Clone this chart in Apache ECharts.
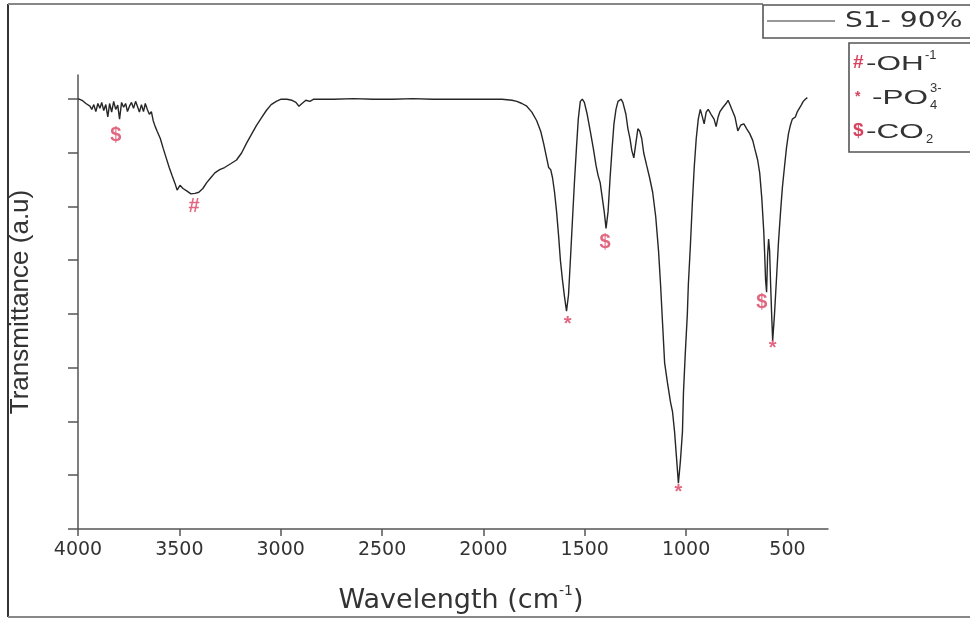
<!DOCTYPE html>
<html>
<head>
<meta charset="utf-8">
<script src="https://cdn.jsdelivr.net/npm/echarts@6/dist/echarts.min.js"></script>
<style>
html,body{margin:0;padding:0;background:#fff;}
#chart{width:970px;height:619px;}
</style>
</head>
<body>
<div id="chart"></div>
<script>
// Wavenumber (cm-1) and transmittance (a.u.)
const wavenumber = [4000,3980,3961,3941,3932,3922,3912,3902,3892,3883,3873,3863,3853,3844,3834,3824,3814,3804,3795,3785,3775,3765,3756,3746,3736,3726,3716,3707,3697,3687,3677,3668,3658,3648,3638,3629,3619,3609,3594,3580,3565,3550,3536,3521,3511,3497,3482,3462,3443,3423,3404,3384,3365,3345,3325,3301,3277,3247,3218,3193,3169,3145,3120,3096,3071,3047,3022,2998,2969,2944,2925,2910,2895,2876,2856,2837,2739,2641,2543,2446,2348,2250,2152,2055,1957,1908,1859,1835,1810,1786,1761,1737,1717,1703,1688,1678,1668,1659,1649,1639,1629,1620,1610,1600,1590,1580,1571,1561,1551,1541,1532,1522,1512,1502,1488,1473,1458,1444,1434,1424,1414,1404,1395,1385,1375,1365,1356,1346,1336,1321,1312,1297,1287,1277,1268,1258,1248,1238,1229,1219,1209,1194,1180,1165,1150,1136,1126,1116,1106,1092,1077,1067,1057,1048,1038,1028,1018,1013,1004,994,989,979,969,960,950,940,930,921,911,901,891,877,862,852,842,833,818,803,793,784,774,759,745,730,715,701,686,671,662,647,637,627,617,613,608,603,598,593,588,583,578,573,564,554,544,534,525,515,505,495,486,476,461,451,442,432,422,412,402];
const transmittance = [80.0,79.7,79.1,78.6,78.0,78.9,77.6,79.1,78.2,79.3,77.8,78.9,76.6,79.1,77.5,79.5,78.0,78.8,76.2,79.3,78.4,79.1,77.6,78.6,79.3,78.2,79.5,78.6,77.5,78.9,77.6,79.1,78.0,77.1,77.6,75.9,74.8,73.9,72.6,70.8,69.0,67.2,65.7,64.2,63.0,63.9,63.3,62.8,62.3,62.4,62.6,63.3,64.4,65.3,66.2,66.8,67.2,67.9,68.6,69.9,71.7,73.3,75.0,76.4,77.8,78.9,79.5,79.9,79.9,79.7,79.3,78.6,79.1,79.7,79.5,79.9,79.9,80.0,79.9,79.9,80.0,79.9,79.9,79.9,79.9,79.9,79.7,79.5,79.1,78.6,77.5,75.9,73.9,71.7,69.0,67.2,66.8,65.3,62.6,59.0,54.5,49.9,46.3,43.2,40.5,43.6,49.9,57.2,64.4,70.8,76.2,79.5,79.9,79.3,77.1,74.0,70.8,67.5,65.7,64.4,61.7,59.0,55.9,59.0,65.3,70.8,75.3,78.0,79.5,79.9,79.3,77.1,74.4,72.6,70.4,69.0,71.7,74.4,74.0,72.6,69.9,67.5,65.3,62.6,58.1,51.7,45.4,38.1,30.9,27.2,23.6,21.8,18.1,13.6,8.5,12.7,18.1,25.4,32.7,39.9,45.4,52.6,60.8,67.2,72.6,76.2,78.0,76.8,75.3,77.5,78.0,77.1,76.2,74.8,76.6,77.6,78.4,79.1,79.7,78.9,78.0,76.6,74.0,75.1,75.3,74.4,73.5,72.2,70.8,68.6,66.2,61.7,55.4,51.7,46.3,44.0,50.8,53.9,51.7,45.4,39.9,35.0,39.9,46.6,53.5,59.0,63.5,67.2,70.8,73.5,75.0,76.2,76.6,77.6,77.5,78.8,79.5,79.9,80.2];

// Band annotations
const annWavenumber = [3814, 3428, 1585, 1400, 1038, 627, 573];
const annTransmittance = [73.1, 59.9, 38.0, 53.2, 6.8, 42.1, 33.5];
const annSymbol = ['$', '#', '*', '$', '*', '$', '*'];

// Axis ticks
const xTicks = [4000, 3500, 3000, 2500, 2000, 1500, 1000, 500];
const yTicks = [0, 10, 20, 30, 40, 50, 60, 70, 80];

const seriesName = 'S1- 90%';

const lineData = wavenumber.map((w, i) => [w, transmittance[i]]);
const annData = annWavenumber.map((w, i) => ({ value: [w, annTransmittance[i]], sym: annSymbol[i] }));

const RED = '#d8415f';
const chart = echarts.init(document.getElementById('chart'), null, { renderer: 'canvas' });

const FONT = 'Liberation Sans, Arial, sans-serif';

chart.setOption({
  backgroundColor: '#ffffff',
  animation: false,
  grid: { left: 72, right: 142, top: 75, bottom: 79, containLabel: false },
  xAxis: {
    type: 'value',
    inverse: true,
    min: 300,
    max: 4000,
    splitLine: { show: false },
    axisLine: { show: true, onZero: false, lineStyle: { color: '#555', width: 1.5 } },
    axisTick: { show: true, customValues: xTicks, length: 7, inside: false, lineStyle: { color: '#555', width: 1.5 } },
    axisLabel: { customValues: xTicks, formatter: v => String(v), margin: 12, fontSize: 19, color: '#333', fontFamily: 'DejaVu Sans' },
    name: '{t|Wavelength (cm}{s|-1}{t|)}',
    nameLocation: 'middle',
    nameGap: 55,
    nameTextStyle: {
      padding: [0, 0, 0, 16],
      rich: {
        t: { fontSize: 27, fontFamily: 'DejaVu Sans', color: '#333', lineHeight: 30, verticalAlign: 'bottom' },
        s: { fontSize: 14, fontFamily: 'DejaVu Sans', color: '#333', lineHeight: 30, verticalAlign: 'top' }
      }
    }
  },
  yAxis: {
    type: 'value',
    min: 0,
    max: 84.4,
    splitLine: { show: false },
    axisLine: { show: true, lineStyle: { color: '#555', width: 1.5 } },
    axisTick: { show: true, customValues: yTicks, length: 10, lineStyle: { color: '#555', width: 1.5 } },
    axisLabel: { show: false },
    name: 'Transmittance (a.u)',
    nameLocation: 'middle',
    nameGap: 44,
    nameRotate: 90,
    nameTextStyle: { fontSize: 26, fontFamily: FONT, color: '#333' }
  },
  series: [
    {
      name: seriesName,
      type: 'line',
      data: lineData,
      showSymbol: false,
      symbol: 'none',
      lineStyle: { color: '#262626', width: 1.4 },
      z: 3
    },
    {
      type: 'scatter',
      data: annData,
      symbolSize: 1,
      itemStyle: { color: 'rgba(0,0,0,0)' },
      label: {
        show: true,
        position: 'inside',
        formatter: p => p.data.sym,
        color: RED,
        fontSize: 20,
        fontWeight: 'bold',
        fontFamily: FONT
      },
      z: 4
    }
  ],
  graphic: [
    // outer frame
    { type: 'line', shape: { x1: 8, y1: 4, x2: 8, y2: 617 }, style: { stroke: '#333', lineWidth: 2 } },
    { type: 'line', shape: { x1: 8, y1: 4, x2: 763, y2: 4 }, style: { stroke: '#888', lineWidth: 2 } },
    { type: 'line', shape: { x1: 8, y1: 617, x2: 970, y2: 617 }, style: { stroke: '#888', lineWidth: 2 } },
    // series legend box
    { type: 'rect', shape: { x: 763, y: 5, width: 230, height: 33 }, style: { fill: '#fff', stroke: '#555', lineWidth: 1.6 } },
    { type: 'line', shape: { x1: 767, y1: 21, x2: 835, y2: 21 }, style: { stroke: '#333', lineWidth: 1.2 } },
    { type: 'text', x: 845, y: 22, scaleX: 1.34, style: { text: seriesName, fontSize: 21, fontFamily: 'DejaVu Sans', fill: '#333', verticalAlign: 'middle' } },
    // band legend box
    { type: 'rect', shape: { x: 849, y: 43, width: 140, height: 109 }, style: { fill: '#fff', stroke: '#555', lineWidth: 1.6 } },
    { type: 'text', x: 853, y: 63, style: { text: '#', fontSize: 19, fontWeight: 'bold', fontFamily: FONT, fill: RED, verticalAlign: 'middle' } },
    { type: 'text', x: 866, y: 64, scaleX: 1.5, style: { text: '-OH', fontSize: 21, fontFamily: FONT, fill: '#333', verticalAlign: 'middle' } },
    { type: 'text', x: 925, y: 55, style: { text: '-1', fontSize: 13, fontFamily: FONT, fill: '#333', verticalAlign: 'middle' } },
    { type: 'text', x: 855, y: 97, style: { text: '*', fontSize: 14, fontWeight: 'bold', fontFamily: FONT, fill: RED, verticalAlign: 'middle' } },
    { type: 'text', x: 872, y: 98, scaleX: 1.5, style: { text: '-PO', fontSize: 21, fontFamily: FONT, fill: '#333', verticalAlign: 'middle' } },
    { type: 'text', x: 930, y: 105, style: { text: '4', fontSize: 13, fontFamily: FONT, fill: '#333', verticalAlign: 'middle' } },
    { type: 'text', x: 930, y: 88, style: { text: '3-', fontSize: 13, fontFamily: FONT, fill: '#333', verticalAlign: 'middle' } },
    { type: 'text', x: 853, y: 131, style: { text: '$', fontSize: 19, fontWeight: 'bold', fontFamily: FONT, fill: RED, verticalAlign: 'middle' } },
    { type: 'text', x: 866, y: 132, scaleX: 1.5, style: { text: '-CO', fontSize: 21, fontFamily: FONT, fill: '#333', verticalAlign: 'middle' } },
    { type: 'text', x: 926, y: 139, style: { text: '2', fontSize: 13, fontFamily: FONT, fill: '#333', verticalAlign: 'middle' } }
  ]
});
</script>
</body>
</html>
